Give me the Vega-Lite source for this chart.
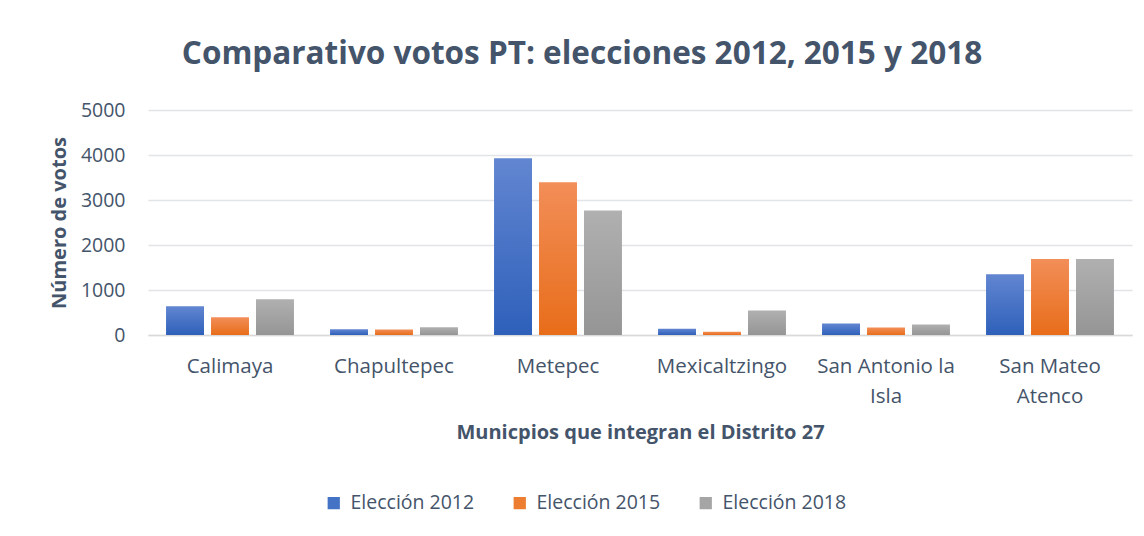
{
  "$schema": "https://vega.github.io/schema/vega-lite/v6.json",
  "width": 984,
  "height": 225,
  "autosize": {"type": "none"},
  "padding": {"left": 148, "top": 110, "right": 12, "bottom": 201},
  "background": "white",
  "title": {
    "text": "Comparativo votos PT: elecciones 2012, 2015 y 2018",
    "font": "Open Sans",
    "fontSize": 31.5,
    "fontWeight": "bold",
    "color": "#44546a",
    "offset": 30,
    "dx": -58
  },
  "data": {
    "values": [
      {"Municipio": "Calimaya", "Eleccion": "Elección 2012", "Votos": 638},
      {"Municipio": "Calimaya", "Eleccion": "Elección 2015", "Votos": 393},
      {"Municipio": "Calimaya", "Eleccion": "Elección 2018", "Votos": 793},
      {"Municipio": "Chapultepec", "Eleccion": "Elección 2012", "Votos": 127},
      {"Municipio": "Chapultepec", "Eleccion": "Elección 2015", "Votos": 125},
      {"Municipio": "Chapultepec", "Eleccion": "Elección 2018", "Votos": 171},
      {"Municipio": "Metepec", "Eleccion": "Elección 2012", "Votos": 3927},
      {"Municipio": "Metepec", "Eleccion": "Elección 2015", "Votos": 3393},
      {"Municipio": "Metepec", "Eleccion": "Elección 2018", "Votos": 2767},
      {"Municipio": "Mexicaltzingo", "Eleccion": "Elección 2012", "Votos": 141},
      {"Municipio": "Mexicaltzingo", "Eleccion": "Elección 2015", "Votos": 74},
      {"Municipio": "Mexicaltzingo", "Eleccion": "Elección 2018", "Votos": 547},
      {"Municipio": "San Antonio la Isla", "Eleccion": "Elección 2012", "Votos": 253},
      {"Municipio": "San Antonio la Isla", "Eleccion": "Elección 2015", "Votos": 164},
      {"Municipio": "San Antonio la Isla", "Eleccion": "Elección 2018", "Votos": 231},
      {"Municipio": "San Mateo Atenco", "Eleccion": "Elección 2012", "Votos": 1352},
      {"Municipio": "San Mateo Atenco", "Eleccion": "Elección 2015", "Votos": 1688},
      {"Municipio": "San Mateo Atenco", "Eleccion": "Elección 2018", "Votos": 1688}
    ]
  },
  "encoding": {
    "x": {
      "field": "Municipio",
      "type": "nominal",
      "sort": null,
      "scale": {"paddingInner": 0.22, "paddingOuter": 0.11},
      "axis": {
        "title": "Municpios que integran el Distrito 27",
        "titleFont": "Open Sans",
        "titleFontSize": 20,
        "titleFontWeight": "bold",
        "titleColor": "#44546a",
        "titlePadding": 16,
        "labelFont": "Open Sans",
        "labelFontSize": 20.5,
        "labelColor": "#44546a",
        "labelAngle": 0,
        "labelPadding": 21,
        "labelLineHeight": 30,
        "labelLimit": 230,
        "labelExpr": "datum.label == 'San Antonio la Isla' ? ['San Antonio la', 'Isla'] : datum.label == 'San Mateo Atenco' ? ['San Mateo', 'Atenco'] : datum.label",
        "ticks": false,
        "domainColor": "#d9d9d9",
        "domainWidth": 1.5
      }
    },
    "xOffset": {
      "field": "Eleccion",
      "type": "nominal",
      "scale": {"paddingInner": 0.156, "paddingOuter": 0}
    },
    "y": {
      "field": "Votos",
      "type": "quantitative",
      "scale": {"domain": [0, 5000]},
      "axis": {
        "title": "Número de votos",
        "titleFont": "Open Sans",
        "titleFontSize": 20,
        "titleFontWeight": "bold",
        "titleColor": "#44546a",
        "titlePadding": 11,
        "labelFont": "Open Sans",
        "labelFontSize": 19.5,
        "labelColor": "#44546a",
        "labelPadding": 23,
        "format": "d",
        "values": [0, 1000, 2000, 3000, 4000, 5000],
        "ticks": false,
        "domain": false,
        "gridColor": "#e1e4e8",
        "gridWidth": 1.5
      }
    }
  },
  "layer": [
    {
      "mark": {"type": "bar", "opacity": 0},
      "encoding": {
        "color": {
          "field": "Eleccion",
          "type": "nominal",
          "scale": {
            "domain": ["Elección 2012", "Elección 2015", "Elección 2018"],
            "range": ["#4472c4", "#ed7d31", "#a5a5a5"]
          },
          "legend": {
            "title": null,
            "orient": "none",
            "direction": "horizontal",
            "legendX": 176,
            "legendY": 383,
            "symbolType": "square",
            "symbolSize": 150,
            "symbolOpacity": 1,
            "symbolStrokeWidth": 0,
            "labelFont": "Open Sans",
            "labelFontSize": 19.5,
            "labelColor": "#44546a",
            "labelOffset": 7,
            "columnPadding": 35
          }
        }
      }
    },
    {
      "mark": {
        "type": "bar",
        "fill": {"expr": "datum.Eleccion == 'Elección 2012' ? {gradient: 'linear', x1: 0, y1: 0, x2: 0, y2: 1, stops: [{offset: 0, color: '#6286d1'}, {offset: 1, color: '#2e60ba'}]} : datum.Eleccion == 'Elección 2015' ? {gradient: 'linear', x1: 0, y1: 0, x2: 0, y2: 1, stops: [{offset: 0, color: '#f28e58'}, {offset: 1, color: '#e86d1a'}]} : {gradient: 'linear', x1: 0, y1: 0, x2: 0, y2: 1, stops: [{offset: 0, color: '#b0b0b0'}, {offset: 1, color: '#959595'}]}"}
      }
    }
  ],
  "config": {
    "view": {"stroke": null}
  }
}
